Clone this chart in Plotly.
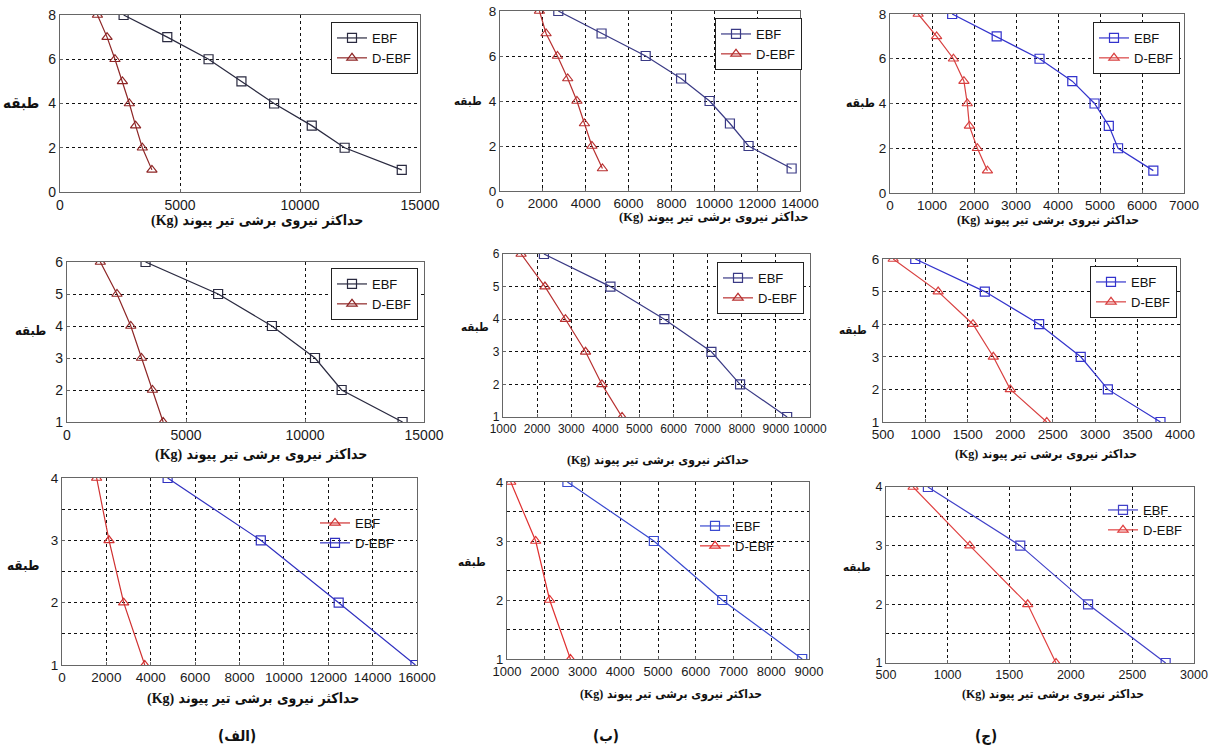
import plotly.graph_objects as go

W, H = 1211, 748

floors8 = [8, 7, 6, 5, 4, 3, 2, 1]
floors6 = [6, 5, 4, 3, 2, 1]
floors4 = [4, 3, 2, 1]

a1_ebf = [2650, 4470, 6190, 7560, 8920, 10490, 11860, 14240]
a1_debf = [1560, 1960, 2290, 2600, 2890, 3150, 3430, 3830]
b1_ebf = [2720, 4740, 6800, 8450, 9780, 10730, 11600, 13610]
b1_debf = [1840, 2150, 2680, 3160, 3590, 3940, 4290, 4780]
c1_ebf = [1480, 2540, 3560, 4340, 4870, 5210, 5430, 6270]
c1_debf = [670, 1110, 1510, 1760, 1840, 1890, 2080, 2320]

a2_ebf = [3300, 6350, 8610, 10420, 11540, 14100]
a2_debf = [1400, 2100, 2680, 3130, 3590, 4040]
b2_ebf = [2200, 4150, 5730, 7110, 7950, 9330]
b2_debf = [1530, 2230, 2830, 3420, 3900, 4490]
c2_ebf = [880, 1700, 2340, 2830, 3150, 3770]
c2_debf = [620, 1150, 1560, 1800, 2000, 2430]

a3_ebf = [1560, 2120, 2780, 3730]
a3_debf = [4760, 8960, 12470, 15930]
b3_ebf = [2600, 4890, 6700, 8820]
b3_debf = [1100, 1760, 2130, 2680]
c3_ebf = [840, 1590, 2140, 2770]
c3_debf = [720, 1180, 1650, 1880]

x_title_fa = "حداکثر نیروی برشی تیر پیوند"
x_title_unit = "(Kg)"
y_title = "طبقه"
panel_labels = ["(الف)", "(ب)", "(ج)"]

SANS = "Liberation Sans, Arial, sans-serif"
FAFONT = "DejaVu Sans Condensed, DejaVu Sans"

# panel specs: plot box in px (x0, x1, y0, y1); xt/yt = (cx, cy, fontsize)
panels = [
    dict(box=(60, 420, 15, 192), xr=[0, 15000], xd=5000, yr=[0, 8], yd=2, fl=floors8, tf=14,
         s=[("EBF", a1_ebf, "#2a2a40", "square-open"), ("D-EBF", a1_debf, "#8e2626", "triangle-up-open")],
         leg=(418, 22, True), xt=(257, 221, 14), yt=(21, 103, 15)),
    dict(box=(500, 800, 11, 191), xr=[0, 14000], xd=2000, yr=[0, 8], yd=2, fl=floors8, tf=13.5,
         s=[("EBF", b1_ebf, "#3a3a85", "square-open"), ("D-EBF", b1_debf, "#b83030", "triangle-up-open")],
         leg=(802, 18, True), xt=(714, 217, 12.5), yt=(468, 101, 11.5)),
    dict(box=(890, 1184, 14, 193), xr=[0, 7000], xd=1000, yr=[0, 8], yd=2, fl=floors8, tf=13.5,
         s=[("EBF", c1_ebf, "#3333cc", "square-open"), ("D-EBF", c1_debf, "#d84040", "triangle-up-open")],
         leg=(1180, 22, True), xt=(1048, 221, 12), yt=(860, 103, 12)),
    dict(box=(67, 424, 262, 422), xr=[0, 15000], xd=5000, yr=[1, 6], yd=1, fl=floors6, tf=14,
         s=[("EBF", a2_ebf, "#2a2a40", "square-open"), ("D-EBF", a2_debf, "#8e2626", "triangle-up-open")],
         leg=(418, 268, True), xt=(261, 454, 14), yt=(30, 330, 13)),
    dict(box=(503, 810, 254, 417), xr=[1000, 10000], xd=1000, yr=[1, 6], yd=1, fl=floors6, tf=12,
         s=[("EBF", b2_ebf, "#3a3a85", "square-open"), ("D-EBF", b2_debf, "#b83030", "triangle-up-open")],
         leg=(804, 262, True), xt=(658, 460, 12), yt=(475, 327, 11.5)),
    dict(box=(883, 1180, 259, 422), xr=[500, 4000], xd=500, yr=[1, 6], yd=1, fl=floors6, tf=13.5,
         s=[("EBF", c2_ebf, "#3333cc", "square-open"), ("D-EBF", c2_debf, "#d84040", "triangle-up-open")],
         leg=(1177, 266, True), xt=(1046, 454, 12), yt=(853, 330, 11.5)),
    dict(box=(62, 417, 478, 665), xr=[0, 16000], xd=2000, yr=[1, 4], yd=1, fl=floors4, tf=13.5, minor=True,
         s=[("EBF", a3_ebf, "#d03030", "triangle-up-open"), ("D-EBF", a3_debf, "#3030c0", "square-open")],
         leg=(400, 508, False), xt=(253, 698, 14), yt=(23, 565, 13.5)),
    dict(box=(507, 809, 482, 659), xr=[1000, 9000], xd=1000, yr=[1, 4], yd=1, fl=floors4, tf=13, minor=True,
         s=[("EBF", b3_ebf, "#3a4ad0", "square-open"), ("D-EBF", b3_debf, "#e03030", "triangle-up-open")],
         leg=(780, 511, False), xt=(671, 694, 12), yt=(472, 562, 11.5)),
    dict(box=(886, 1194, 487, 663), xr=[500, 3000], xd=500, yr=[1, 4], yd=1, fl=floors4, tf=12.5, minor=True,
         s=[("EBF", c3_ebf, "#4040c8", "square-open"), ("D-EBF", c3_debf, "#e04040", "triangle-up-open")],
         leg=(1188, 495, False), xt=(1053, 694, 12), yt=(857, 567, 11.5)),
]

fig = go.Figure()
layout = dict(width=W, height=H, margin=dict(l=0, r=0, t=0, b=0, autoexpand=False),
              paper_bgcolor="white", plot_bgcolor="white", annotations=[])

for i, p in enumerate(panels, start=1):
    sfx = "" if i == 1 else str(i)
    x0, x1, y0, y1 = p["box"]
    for name, vals, col, sym in p["s"]:
        fig.add_trace(go.Scatter(
            x=vals, y=p["fl"], name=name, mode="lines+markers",
            line=dict(color=col, width=1.2),
            marker=dict(symbol=sym, size=9, color=col, line=dict(width=1.2, color=col)),
            xaxis="x" + sfx, yaxis="y" + sfx, legend="legend" + sfx,
        ))
    grid = dict(showgrid=True, gridcolor="#111", griddash="dot", gridwidth=1,
                showline=True, linecolor="#666", linewidth=1.3, mirror=True,
                ticks="inside", ticklen=3, tickcolor="#666", zeroline=False,
                tickfont=dict(family=SANS, size=p["tf"], color="#1a1a1a"),
                tickformat="d", automargin=False, tickangle=0)
    layout["xaxis" + sfx] = dict(domain=[x0 / W, x1 / W], range=p["xr"], dtick=p["xd"],
                                 tick0=p["xr"][0], anchor="y" + sfx, **grid)
    ya = dict(domain=[1 - y1 / H, 1 - y0 / H], range=p["yr"], dtick=p["yd"],
              tick0=p["yr"][0], anchor="x" + sfx, **grid)
    if p.get("minor"):
        ya["minor"] = dict(dtick=0.5, showgrid=True, gridcolor="#111", griddash="dot", gridwidth=1)
    layout["yaxis" + sfx] = ya
    lx, ly, border = p["leg"]
    layout["legend" + sfx] = dict(
        x=lx / W, y=1 - ly / H, xanchor="right", yanchor="top",
        bgcolor="white" if border else "rgba(0,0,0,0)",
        bordercolor="#222", borderwidth=1 if border else 0,
        font=dict(family=SANS, size=13, color="#111"),
        tracegroupgap=0, itemwidth=30,
    )
    tx, ty, fs = p["xt"]
    layout["annotations"].append(dict(
        x=tx / W, y=1 - ty / H, xref="paper", yref="paper", xanchor="center", yanchor="middle",
        text="<b><span style=\"font-family:'Liberation Serif'\">" + x_title_unit + "</span> "
             + x_title_fa + "</b>",
        showarrow=False, font=dict(family=FAFONT, size=fs, color="#111")))
    tx, ty, fs = p["yt"]
    layout["annotations"].append(dict(
        x=tx / W, y=1 - ty / H, xref="paper", yref="paper", xanchor="center", yanchor="middle",
        text="<b>" + y_title + "</b>",
        showarrow=False, font=dict(family=FAFONT, size=fs, color="#111")))

for lbl, px in zip(panel_labels, [237, 606, 986]):
    layout["annotations"].append(dict(
        x=px / W, y=1 - 736 / H, xref="paper", yref="paper", xanchor="center", yanchor="middle",
        text="<b>" + lbl + "</b>",
        showarrow=False, font=dict(family=FAFONT, size=15, color="#111")))

fig.update_layout(**layout)
fig.write_html("out.html", config={"displayModeBar": False},
               post_script="document.body.style.margin='0';")
